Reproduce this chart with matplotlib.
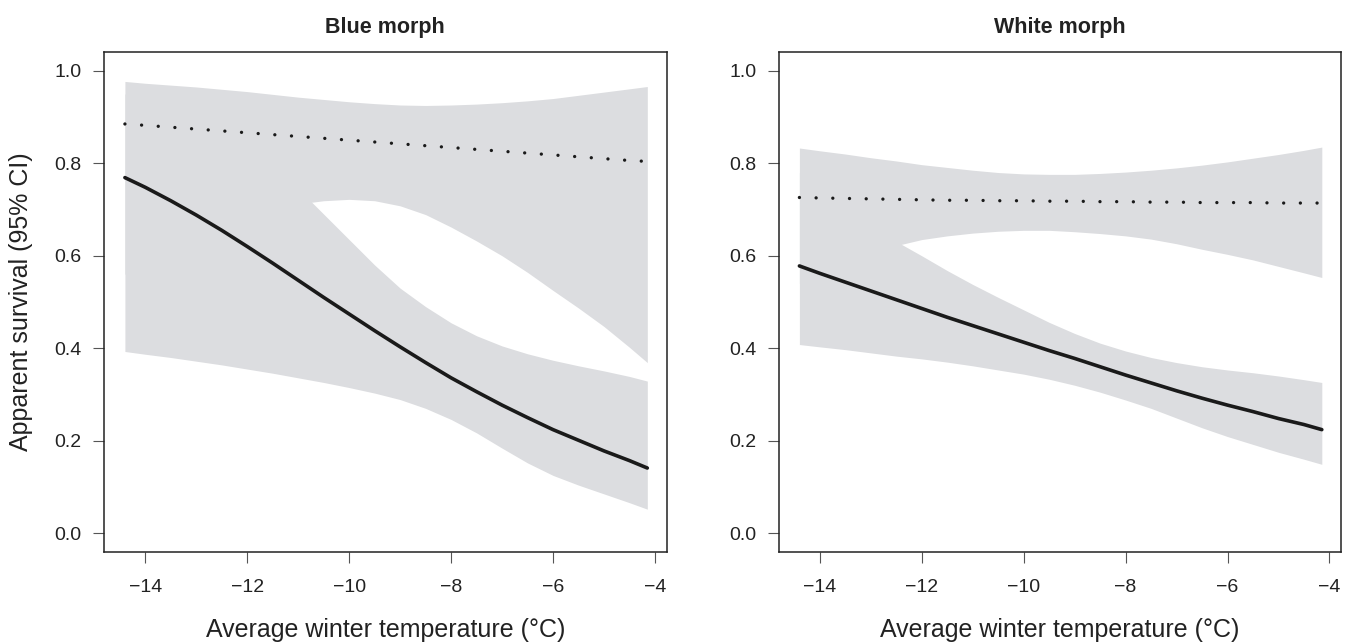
import matplotlib.pyplot as plt

# Average winter temperature (x positions of the fitted curves)
temp = [-14.4, -14.0, -13.5, -13.0, -12.5, -12.0, -11.5, -11.0, -10.5, -10.0, -9.5,
        -9.0, -8.5, -8.0, -7.5, -7.0, -6.5, -6.0, -5.5, -5.0, -4.5, -4.15]

# Blue morph: solid curve + CI, dotted curve + CI
blue_solid = [0.769, 0.748, 0.719, 0.688, 0.655, 0.620, 0.584, 0.547, 0.510, 0.474, 0.438,
              0.403, 0.369, 0.336, 0.306, 0.277, 0.250, 0.224, 0.201, 0.178, 0.157, 0.141]
blue_solid_lo = [0.393, 0.387, 0.380, 0.372, 0.364, 0.355, 0.346, 0.336, 0.326, 0.315, 0.303,
                 0.289, 0.270, 0.246, 0.217, 0.184, 0.152, 0.125, 0.104, 0.085, 0.066, 0.052]
blue_solid_hi = [0.950, 0.940, 0.920, 0.895, 0.865, 0.830, 0.790, 0.745, 0.690, 0.635, 0.580,
                 0.530, 0.490, 0.455, 0.427, 0.405, 0.388, 0.374, 0.362, 0.351, 0.339, 0.329]
blue_dot = [0.885, 0.882, 0.878, 0.874, 0.870, 0.866, 0.862, 0.858, 0.854, 0.850, 0.846,
            0.842, 0.838, 0.834, 0.830, 0.826, 0.822, 0.818, 0.814, 0.810, 0.806, 0.804]
blue_dot_lo = [0.560, 0.580, 0.610, 0.635, 0.660, 0.680, 0.697, 0.712, 0.719, 0.722, 0.719,
               0.708, 0.689, 0.662, 0.632, 0.600, 0.564, 0.525, 0.487, 0.447, 0.402, 0.369]
blue_dot_hi = [0.977, 0.973, 0.969, 0.965, 0.960, 0.955, 0.949, 0.943, 0.938, 0.933, 0.929,
               0.926, 0.925, 0.926, 0.928, 0.931, 0.935, 0.940, 0.947, 0.954, 0.961, 0.966]

# White morph
white_solid = [0.578, 0.562, 0.543, 0.524, 0.505, 0.486, 0.467, 0.449, 0.431, 0.413, 0.395,
               0.378, 0.360, 0.342, 0.325, 0.308, 0.292, 0.277, 0.263, 0.248, 0.235, 0.224]
white_solid_lo = [0.408, 0.403, 0.397, 0.390, 0.383, 0.377, 0.370, 0.362, 0.353, 0.344, 0.333,
                  0.320, 0.305, 0.288, 0.270, 0.249, 0.228, 0.209, 0.192, 0.175, 0.160, 0.149]
white_solid_hi = [0.780, 0.750, 0.710, 0.672, 0.631, 0.600, 0.568, 0.538, 0.510, 0.483, 0.456,
                  0.432, 0.411, 0.394, 0.380, 0.369, 0.360, 0.353, 0.347, 0.340, 0.332, 0.326]
white_dot = [0.726, 0.725, 0.724, 0.723, 0.722, 0.721, 0.720, 0.720, 0.719, 0.719, 0.718,
             0.718, 0.717, 0.717, 0.716, 0.716, 0.715, 0.715, 0.715, 0.714, 0.714, 0.714]
white_dot_lo = [0.540, 0.560, 0.585, 0.605, 0.622, 0.635, 0.643, 0.649, 0.653, 0.655, 0.655,
                0.652, 0.648, 0.643, 0.636, 0.626, 0.614, 0.603, 0.591, 0.577, 0.563, 0.553]
white_dot_hi = [0.833, 0.827, 0.820, 0.812, 0.805, 0.797, 0.791, 0.785, 0.780, 0.777, 0.776,
                0.776, 0.778, 0.781, 0.785, 0.790, 0.796, 0.803, 0.811, 0.819, 0.828, 0.835]

x_ticks = [-14, -12, -10, -8, -6, -4]
y_ticks = [0.0, 0.2, 0.4, 0.6, 0.8, 1.0]
y_tick_labels = ["0.0", "0.2", "0.4", "0.6", "0.8", "1.0"]

plt.rcParams['font.family'] = ['Liberation Sans', 'DejaVu Sans']
band_color = '#dcdde0'
line_color = '#1a1a1a'


def draw_panel(ax, title, solid, solid_lo, solid_hi, dot, dot_lo, dot_hi, show_ylabel):
    # bandas de confianza primero, luego las curvas
    ax.fill_between(temp, solid_lo, solid_hi, color=band_color, linewidth=0)
    ax.fill_between(temp, dot_lo, dot_hi, color=band_color, linewidth=0)
    ax.plot(temp, solid, color=line_color, linewidth=2.6, solid_capstyle='round')
    ax.plot(temp, dot, color=line_color, linewidth=2.4,
            linestyle=(0, (0.01, 5.0)), dash_capstyle='round')

    ax.set_xlim(-14.81, -3.77)
    ax.set_ylim(-0.04, 1.04)
    ax.set_xticks(x_ticks)
    ax.set_yticks(y_ticks)
    ax.set_yticklabels(y_tick_labels)
    ax.tick_params(direction='out', length=8, width=0.8, color='#555555',
                   labelsize=14, labelcolor='#222222')
    ax.tick_params(axis='x', pad=12)
    ax.tick_params(axis='y', pad=8)
    for sp in ax.spines.values():
        sp.set_color('#222222')
        sp.set_linewidth(1.1)

    ax.set_title(title, fontsize=15.5, fontweight='bold', color='#222222', pad=14)
    ax.set_xlabel('Average winter temperature (°C)', fontsize=18, color='#222222')
    ax.xaxis.set_label_coords(0.5, -0.133)
    if show_ylabel:
        ax.set_ylabel('Apparent survival (95% CI)', fontsize=18, color='#222222')
        ax.yaxis.set_label_coords(-0.126, 0.5)


fig = plt.figure(figsize=(13.49, 6.44), dpi=100)
ax1 = fig.add_axes([0.0771, 0.1433, 0.4171, 0.7755])
ax2 = fig.add_axes([0.5771, 0.1433, 0.4171, 0.7755])

draw_panel(ax1, 'Blue morph', blue_solid, blue_solid_lo, blue_solid_hi,
           blue_dot, blue_dot_lo, blue_dot_hi, True)
draw_panel(ax2, 'White morph', white_solid, white_solid_lo, white_solid_hi,
           white_dot, white_dot_lo, white_dot_hi, False)

fig.savefig('out.png', dpi=100)
